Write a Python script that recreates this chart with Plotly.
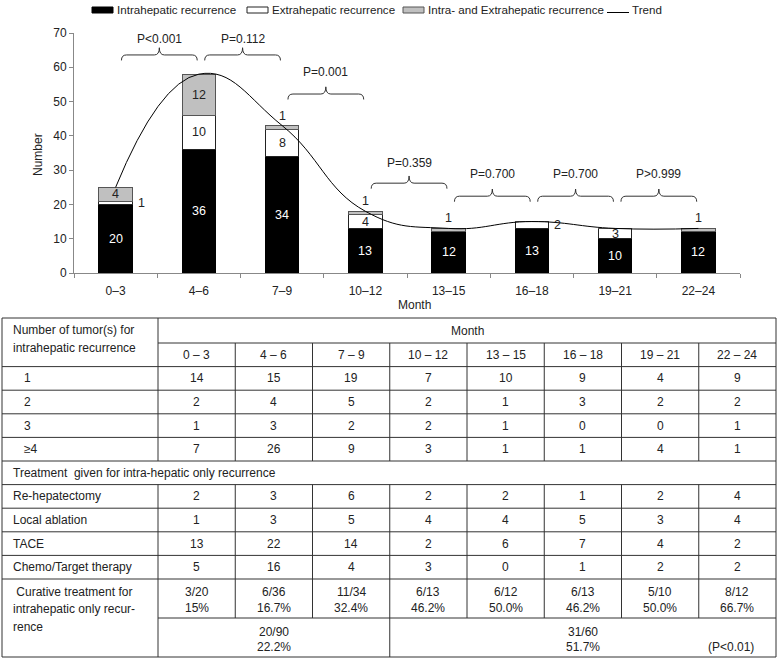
import plotly.graph_objects as go

# ---- chart data ----
months = ["0–3", "4–6", "7–9", "10–12", "13–15", "16–18", "19–21", "22–24"]
intra = [20, 36, 34, 13, 12, 13, 10, 12]
extra = [1, 10, 8, 4, 0, 2, 3, 0]
both = [4, 12, 1, 1, 1, 0, 0, 1]
series_names = ["Intrahepatic recurrence", "Extrahepatic recurrence",
                "Intra- and Extrahepatic recurrence", "Trend"]
p_labels = ["P<0.001", "P=0.112", "P=0.001", "P=0.359", "P=0.700", "P=0.700", "P>0.999"]

# ---- table data ----
table_months = ["0 – 3", "4 – 6", "7 – 9", "10 – 12", "13 – 15", "16 – 18", "19 – 21", "22 – 24"]
tumor_labels = ["1", "2", "3", "≥4"]
tumor_1 = [14, 15, 19, 7, 10, 9, 4, 9]
tumor_2 = [2, 4, 5, 2, 1, 3, 2, 2]
tumor_3 = [1, 3, 2, 2, 1, 0, 0, 1]
tumor_4plus = [7, 26, 9, 3, 1, 1, 4, 1]
treat_labels = ["Re-hepatectomy", "Local ablation", "TACE", "Chemo/Target therapy"]
rehep = [2, 3, 6, 2, 2, 1, 2, 4]
ablation = [1, 3, 5, 4, 4, 5, 3, 4]
tace = [13, 22, 14, 2, 6, 7, 4, 2]
chemo = [5, 16, 4, 3, 0, 1, 2, 2]
curative_n = ["3/20", "6/36", "11/34", "6/13", "6/12", "6/13", "5/10", "8/12"]
curative_pct = ["15%", "16.7%", "32.4%", "46.2%", "50.0%", "46.2%", "50.0%", "66.7%"]
early_total = ["20/90", "22.2%"]
late_total = ["31/60", "51.7%"]
p_total = "(P<0.01)"

# ---- layout constants (pixels) ----
W, H = 777, 665
FONT = "Arial, Liberation Sans, Helvetica, sans-serif"
TXT = "#222222"
AXC = "#888888"
BRACKET_LEVELS = [63.6, 63.6, 52.2, 26.2, 22.4, 22.4, 22.4]
P_TEXT_LEVELS = [68.2, 68.2, 58.6, 32.0, 28.9, 28.9, 28.9]


def px(x):
    return x / W


def py(y):
    return 1 - y / H


idx = list(range(len(months)))
totals = [a + b + c for a, b, c in zip(intra, extra, both)]

fig = go.Figure()
fills = ["black", "white", "#c0c0c0"]
edges = ["black", "#222222", "#555555"]
for name, vals, c, e in zip(series_names[:3], [intra, extra, both], fills, edges):
    fig.add_trace(go.Bar(x=idx, y=vals, name=name, width=0.4,
                         marker=dict(color=c, line=dict(color=e, width=1)),
                         showlegend=False, hoverinfo="skip"))

# smoothed trend line through the total recurrences
fig.add_trace(go.Scatter(x=idx, y=totals, mode="lines", name=series_names[3],
                         line=dict(color="black", width=1, shape="spline", smoothing=1.3),
                         showlegend=False, hoverinfo="skip"))

ann = []
shapes = []

# bar labels
for i in idx:
    ann.append(dict(x=i, y=intra[i] / 2, text=str(intra[i]), showarrow=False,
                    font=dict(color="white", size=12.5, family=FONT)))
    if extra[i] >= 3:
        ann.append(dict(x=i, y=intra[i] + extra[i] / 2, text=str(extra[i]), showarrow=False,
                        font=dict(color=TXT, size=12.5, family=FONT)))
    elif extra[i] > 0:
        ann.append(dict(x=i + 0.24, y=intra[i] + extra[i] / 2, text=str(extra[i]), showarrow=False,
                        xanchor="left", font=dict(color=TXT, size=12.5, family=FONT)))
    if both[i] >= 3:
        ann.append(dict(x=i, y=intra[i] + extra[i] + both[i] / 2, text=str(both[i]), showarrow=False,
                        font=dict(color=TXT, size=12.5, family=FONT)))
    elif both[i] > 0:
        ann.append(dict(x=i, y=totals[i], yshift=10, text=str(both[i]), showarrow=False,
                        font=dict(color=TXT, size=12.5, family=FONT)))

# P-value braces between neighbouring periods
for k, (lab, yl, yt) in enumerate(zip(p_labels, BRACKET_LEVELS, P_TEXT_LEVELS)):
    x0, x1 = k + 0.07, k + 0.98
    xm = (x0 + x1) / 2
    d = 0.06
    path = (f"M{x0},{yl-1.6} Q{x0},{yl} {x0+d},{yl} L{xm-d},{yl} Q{xm},{yl} {xm},{yl+2.1} "
            f"Q{xm},{yl} {xm+d},{yl} L{x1-d},{yl} Q{x1},{yl} {x1},{yl-1.6}")
    shapes.append(dict(type="path", path=path, xref="x", yref="y",
                       line=dict(color="#333333", width=1)))
    ann.append(dict(x=xm, y=yt, text=lab, showarrow=False,
                    font=dict(color=TXT, size=12, family=FONT)))


def label(x, y, text, anchor="center", angle=0, size=12):
    ann.append(dict(x=px(x), y=py(y), xref="paper", yref="paper", text=text, showarrow=False,
                    xanchor=anchor, yanchor="middle", textangle=angle,
                    font=dict(color=TXT, size=size, family=FONT)))


# axis titles
label(414, 305, "Month")
label(38, 155, "Number", angle=-90)

# legend drawn by hand (wide flat swatches like the original)
LEGEND_X = [92, 247, 403, 607]
for k, name in enumerate(series_names):
    x0 = LEGEND_X[k]
    if k < 3:
        shapes.append(dict(type="rect", xref="paper", yref="paper",
                           x0=px(x0), x1=px(x0 + 21), y0=py(13), y1=py(7),
                           fillcolor=fills[k], line=dict(color=edges[k], width=1)))
    else:
        shapes.append(dict(type="line", xref="paper", yref="paper",
                           x0=px(x0), x1=px(x0 + 22), y0=py(12.5), y1=py(12.5),
                           line=dict(color="black", width=1)))
    label(x0 + 23, 9.5, name, "left", size=11.6)

# ---- table drawn with lines and text ----
TL, TR, C0 = 2, 776, 158
col_w = (TR - C0) / len(table_months)
cols = [C0 + k * col_w for k in range(len(table_months) + 1)]
row_h = [25] + [23.6] * 10 + [39, 39]
rows = [318]
for h in row_h:
    rows.append(rows[-1] + h)
LINE = dict(color="#333333", width=1)


def hline(y, xa, xb):
    shapes.append(dict(type="line", xref="paper", yref="paper", x0=px(xa), x1=px(xb),
                       y0=py(y), y1=py(y), line=LINE))


def vline(x, ya, yb):
    shapes.append(dict(type="line", xref="paper", yref="paper", x0=px(x), x1=px(x),
                       y0=py(ya), y1=py(yb), line=LINE))


hline(rows[0], TL, TR)
hline(rows[-1], TL, TR)
vline(TL, rows[0], rows[-1])
vline(TR, rows[0], rows[-1])
hline(rows[1], C0, TR)
for r in range(2, 12):
    hline(rows[r], TL, TR)
hline(rows[12], C0, TR)
vline(C0, rows[0], rows[6])
vline(C0, rows[7], rows[13])
for k in range(1, len(table_months)):
    vline(cols[k], rows[1], rows[6])
    vline(cols[k], rows[7], rows[13] if k == 3 else rows[12])

mid = [(rows[r] + rows[r + 1]) / 2 for r in range(len(row_h))]
cent = [(cols[k] + cols[k + 1]) / 2 for k in range(len(table_months))]
label(11, rows[0] + 12, "Number of tumor(s) for", "left")
label(11, rows[0] + 30, "intrahepatic recurrence", "left")
label((C0 + TR) / 2, mid[0], "Month")
for k, m in enumerate(table_months):
    label(cent[k], mid[1], m)

for r, (lab, vals) in enumerate(zip(tumor_labels, [tumor_1, tumor_2, tumor_3, tumor_4plus])):
    label(22, mid[2 + r], lab, "left")
    for k, v in enumerate(vals):
        label(cent[k], mid[2 + r], str(v))

label(11, mid[6], "Treatment  given for intra-hepatic only recurrence", "left")
for r, (lab, vals) in enumerate(zip(treat_labels, [rehep, ablation, tace, chemo])):
    label(11, mid[7 + r], lab, "left")
    for k, v in enumerate(vals):
        label(cent[k], mid[7 + r], str(v))

for j, line_txt in enumerate(["\u00a0Curative treatment for", "intrahepatic only recur-", "rence"]):
    label(11, mid[11] - 7 + j * 17.5, line_txt, "left")
for k in range(len(table_months)):
    label(cent[k], mid[11] - 7, curative_n[k])
    label(cent[k], mid[11] + 9.5, curative_pct[k])
label((cols[0] + cols[3]) / 2, mid[12] - 6, early_total[0])
label((cols[0] + cols[3]) / 2, mid[12] + 9.5, early_total[1])
label((cols[3] + cols[8]) / 2, mid[12] - 6, late_total[0])
label((cols[3] + cols[8]) / 2, mid[12] + 9.5, late_total[1])
label(cent[7] - 6, mid[12] + 9.5, p_total)

fig.update_layout(
    width=W, height=H, template="none",
    margin=dict(l=0, r=0, t=0, b=0),
    paper_bgcolor="white", plot_bgcolor="white",
    barmode="stack", bargap=0.6,
    font=dict(family=FONT, size=12, color=TXT),
    xaxis=dict(domain=[px(74), px(740)], range=[-0.5, len(months) - 0.5],
               tickvals=idx, ticktext=months, ticks="outside", ticklen=7,
               tickcolor="rgba(0,0,0,0)", showline=True, linecolor=AXC, linewidth=1,
               showgrid=False, zeroline=False, automargin=False,
               minor=dict(tickmode="array", tickvals=[i - 0.5 for i in range(len(months) + 1)],
                          ticks="outside", ticklen=4, tickcolor=AXC),
               tickfont=dict(size=12, color=TXT, family=FONT)),
    yaxis=dict(domain=[py(273), py(33)], range=[0, 70], dtick=10, ticks="outside",
               ticklen=4, tickcolor=AXC, showline=True, linecolor=AXC, linewidth=1,
               showgrid=False, zeroline=False, automargin=False,
               tickfont=dict(size=12, color=TXT, family=FONT)),
    annotations=ann, shapes=shapes,
)

# the page body has a default 8px margin; drop it so the figure sits at the window corner
fig.write_html("out.html", config={"displayModeBar": False},
               post_script="document.body.style.margin='0';")
